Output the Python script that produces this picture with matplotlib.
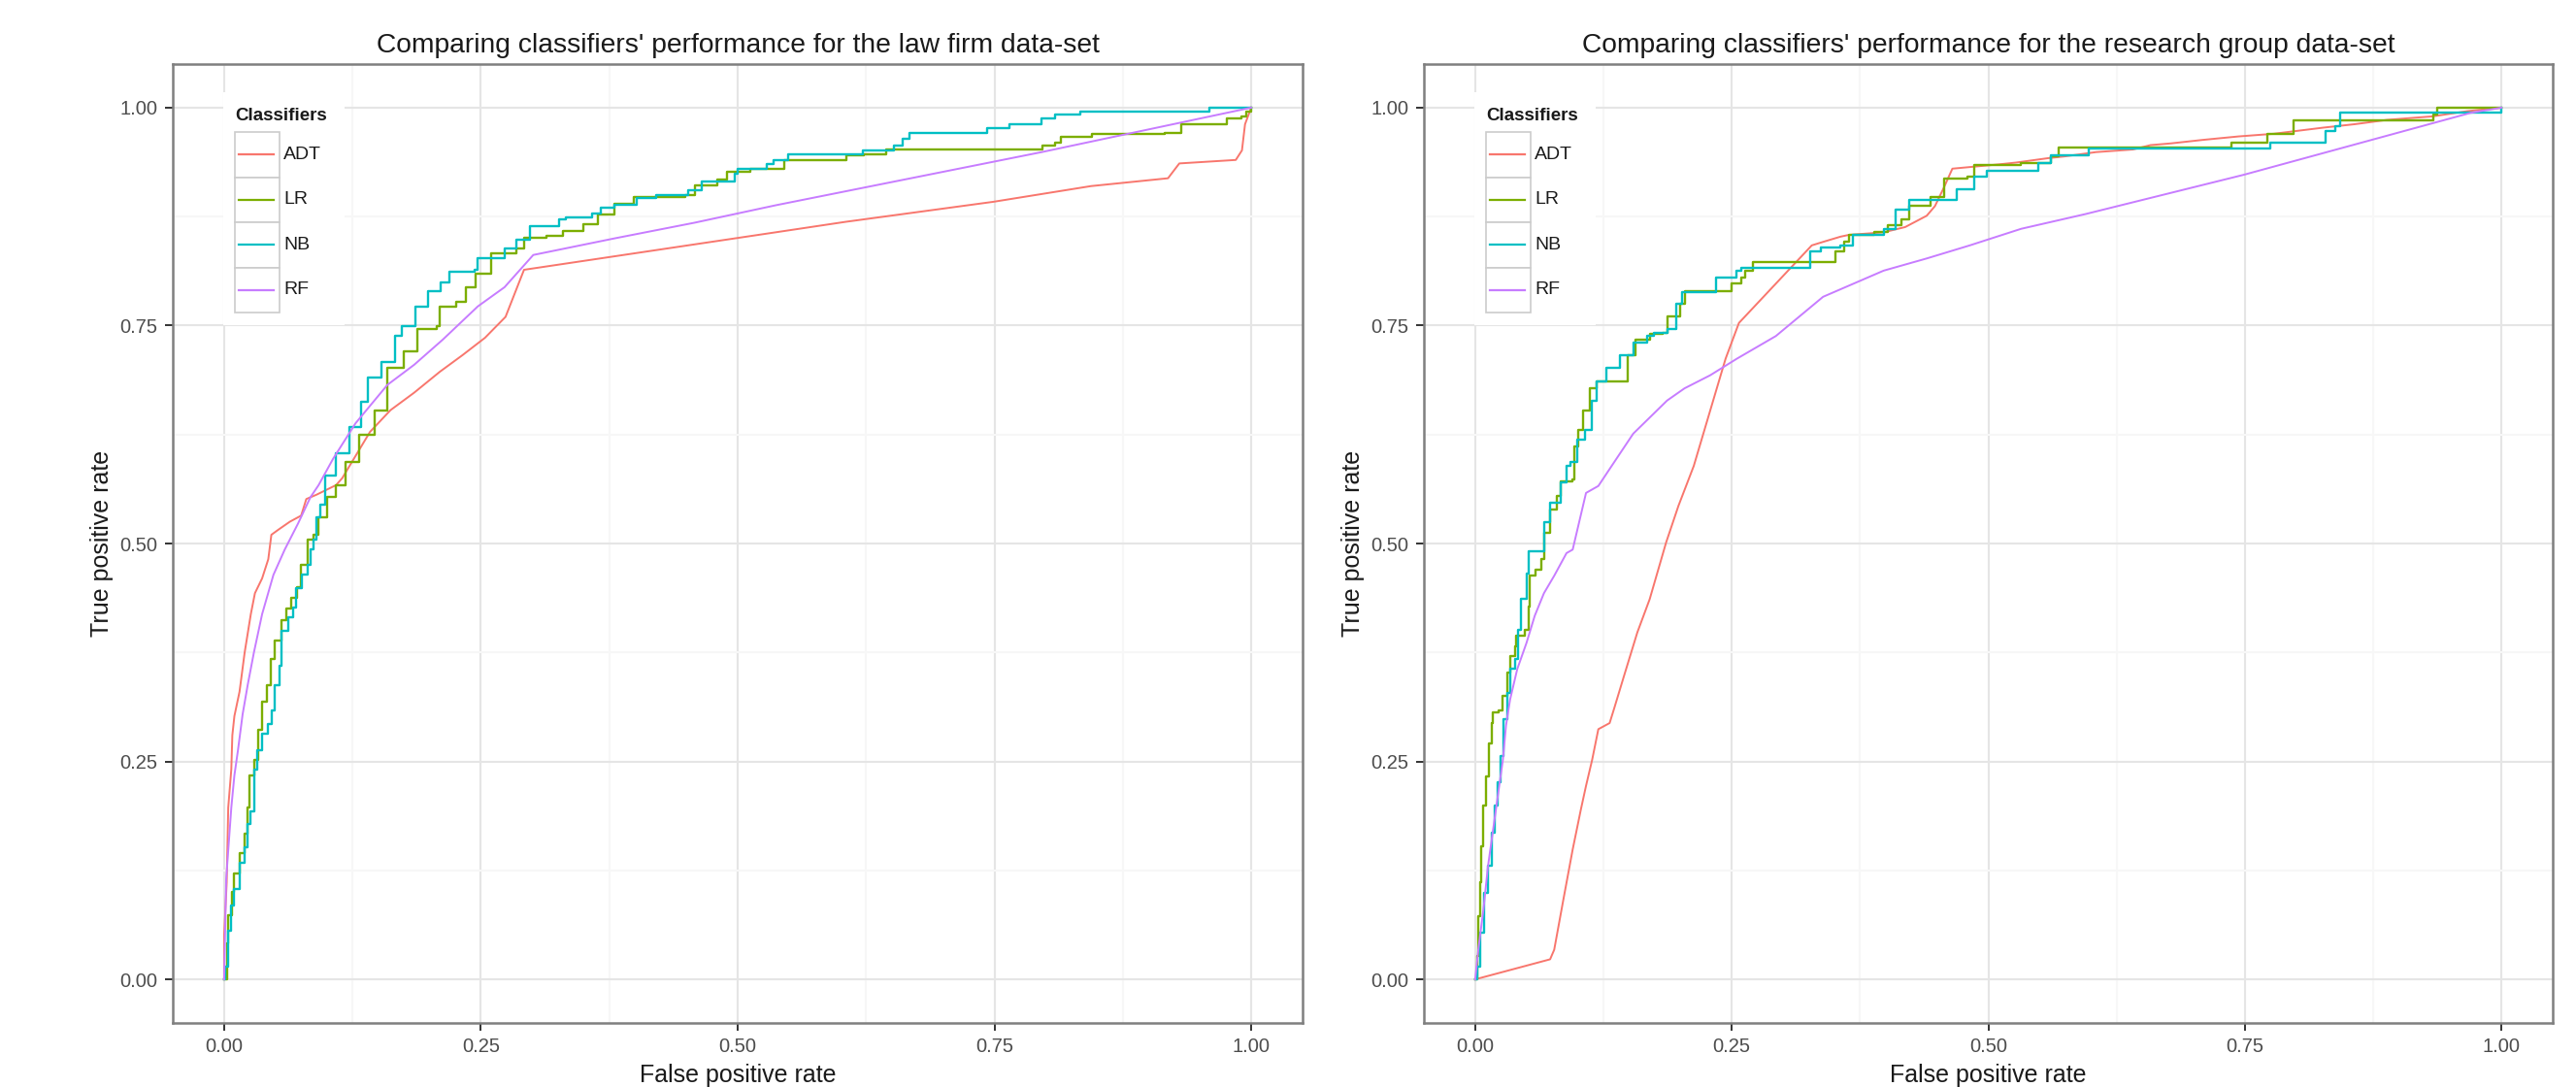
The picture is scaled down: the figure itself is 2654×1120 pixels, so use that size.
import matplotlib
matplotlib.use("Agg")
import matplotlib.pyplot as plt
from matplotlib.patches import Rectangle
from matplotlib.lines import Line2D

plt.rcParams['font.family'] = ['Liberation Sans', 'DejaVu Sans']

classifiers = ['ADT', 'LR', 'NB', 'RF']
colors = {'ADT': '#F8766D', 'LR': '#7CAE00', 'NB': '#00BFC4', 'RF': '#C77CFF'}
titles = ["Comparing classifiers' performance for the law firm data-set",
          "Comparing classifiers' performance for the research group data-set"]
ticks = [0.0, 0.25, 0.5, 0.75, 1.0]
tick_labels = ['0.00', '0.25', '0.50', '0.75', '1.00']

# ---- law firm data-set ----
law_adt_fpr = [0, 0, 0.0025, 0.004, 0.007, 0.008, 0.010, 0.015, 0.020, 0.026, 0.030, 0.037, 0.043,
               0.046, 0.053, 0.064, 0.075, 0.080, 0.090, 0.109, 0.115, 0.142, 0.162, 0.185, 0.210,
               0.232, 0.254, 0.274, 0.292, 0.537, 0.605, 0.749, 0.844, 0.919, 0.930, 0.985, 0.991,
               0.994, 1.0]
law_adt_tpr = [0, 0.05, 0.111, 0.197, 0.241, 0.28, 0.302, 0.33, 0.375, 0.419, 0.443, 0.46, 0.482,
               0.51, 0.516, 0.525, 0.532, 0.551, 0.556, 0.567, 0.575, 0.628, 0.653, 0.673, 0.697,
               0.716, 0.736, 0.760, 0.814, 0.857, 0.869, 0.892, 0.91, 0.919, 0.936, 0.94, 0.951,
               0.981, 1.0]

law_lr_fpr = [0, 0.0025, 0.004, 0.008, 0.010, 0.015, 0.020, 0.023, 0.025, 0.029, 0.033, 0.037,
              0.042, 0.045, 0.049, 0.056, 0.061, 0.065, 0.071, 0.075, 0.081, 0.087, 0.092, 0.100,
              0.109, 0.118, 0.131, 0.147, 0.159, 0.175, 0.188, 0.207, 0.210, 0.226, 0.235, 0.245,
              0.260, 0.285, 0.292, 0.314, 0.330, 0.350, 0.364, 0.380, 0.399, 0.449, 0.458, 0.480,
              0.490, 0.512, 0.545, 0.606, 0.623, 0.645, 0.797, 0.809, 0.815, 0.845, 0.916, 0.932,
              0.976, 0.990, 0.995, 1.0]
law_lr_tpr = [0, 0.041, 0.074, 0.100, 0.122, 0.145, 0.167, 0.197, 0.234, 0.252, 0.286, 0.319,
              0.338, 0.367, 0.389, 0.412, 0.425, 0.438, 0.450, 0.475, 0.505, 0.510, 0.530, 0.553,
              0.567, 0.593, 0.625, 0.653, 0.701, 0.720, 0.746, 0.749, 0.772, 0.777, 0.794, 0.809,
              0.833, 0.838, 0.851, 0.853, 0.859, 0.866, 0.877, 0.890, 0.898, 0.900, 0.911, 0.917,
              0.926, 0.930, 0.940, 0.945, 0.947, 0.952, 0.957, 0.960, 0.967, 0.970, 0.971, 0.981,
              0.988, 0.990, 0.996, 1.0]

law_nb_fpr = [0, 0.001, 0.004, 0.007, 0.010, 0.015, 0.020, 0.023, 0.026, 0.029, 0.032, 0.037,
              0.043, 0.046, 0.049, 0.054, 0.056, 0.062, 0.067, 0.070, 0.076, 0.081, 0.084, 0.087,
              0.090, 0.094, 0.098, 0.109, 0.122, 0.133, 0.140, 0.153, 0.166, 0.173, 0.186, 0.199,
              0.211, 0.219, 0.244, 0.247, 0.273, 0.285, 0.298, 0.326, 0.333, 0.358, 0.367, 0.380,
              0.402, 0.421, 0.452, 0.465, 0.497, 0.500, 0.528, 0.535, 0.549, 0.622, 0.652, 0.661,
              0.667, 0.743, 0.765, 0.796, 0.809, 0.834, 0.959, 1.0]
law_nb_tpr = [0, 0.015, 0.056, 0.085, 0.104, 0.134, 0.152, 0.178, 0.193, 0.241, 0.263, 0.282,
              0.293, 0.308, 0.338, 0.360, 0.400, 0.415, 0.427, 0.449, 0.464, 0.475, 0.493, 0.504,
              0.530, 0.545, 0.578, 0.604, 0.634, 0.662, 0.690, 0.708, 0.738, 0.749, 0.772, 0.790,
              0.799, 0.812, 0.814, 0.827, 0.838, 0.849, 0.864, 0.872, 0.874, 0.879, 0.885, 0.889,
              0.896, 0.900, 0.905, 0.915, 0.924, 0.930, 0.935, 0.940, 0.947, 0.951, 0.957, 0.964,
              0.971, 0.976, 0.981, 0.988, 0.992, 0.996, 1.0, 1.0]

law_rf_fpr = [0, 0.002, 0.004, 0.007, 0.010, 0.0135, 0.018, 0.023, 0.029, 0.037, 0.048, 0.059,
              0.072, 0.084, 0.092, 0.106, 0.128, 0.159, 0.185, 0.213, 0.247, 0.273, 0.301, 0.380,
              0.458, 0.537, 0.796, 1.0]
law_rf_tpr = [0, 0.115, 0.148, 0.197, 0.234, 0.263, 0.304, 0.338, 0.375, 0.419, 0.464, 0.493,
              0.523, 0.553, 0.567, 0.597, 0.638, 0.682, 0.705, 0.734, 0.772, 0.794, 0.831, 0.850,
              0.868, 0.888, 0.949, 1.0]

# ---- research group data-set ----
res_adt_fpr = [0, 0.073, 0.077, 0.086, 0.095, 0.103, 0.108, 0.114, 0.120, 0.131, 0.136, 0.145,
               0.158, 0.170, 0.186, 0.198, 0.213, 0.244, 0.257, 0.328, 0.339, 0.356, 0.364, 0.398,
               0.419, 0.440, 0.448, 0.457, 0.465, 0.511, 0.527, 0.558, 0.574, 0.605, 0.641, 0.658,
               0.678, 0.709, 0.744, 0.778, 0.826, 0.857, 0.889, 0.933, 0.967, 1.0]
res_adt_tpr = [0, 0.023, 0.034, 0.092, 0.149, 0.195, 0.222, 0.252, 0.287, 0.294, 0.313, 0.348,
               0.398, 0.436, 0.501, 0.543, 0.589, 0.712, 0.753, 0.842, 0.846, 0.852, 0.854, 0.857,
               0.863, 0.876, 0.887, 0.909, 0.930, 0.935, 0.937, 0.942, 0.944, 0.949, 0.952, 0.957,
               0.959, 0.963, 0.967, 0.970, 0.977, 0.981, 0.986, 0.990, 0.996, 1.0]

res_lr_fpr = [0, 0.002, 0.003, 0.005, 0.006, 0.008, 0.011, 0.013, 0.016, 0.017, 0.023, 0.027,
              0.031, 0.034, 0.039, 0.040, 0.048, 0.052, 0.053, 0.059, 0.064, 0.067, 0.073, 0.080,
              0.083, 0.095, 0.097, 0.100, 0.105, 0.112, 0.118, 0.149, 0.156, 0.170, 0.183, 0.187,
              0.200, 0.204, 0.250, 0.259, 0.263, 0.271, 0.351, 0.360, 0.364, 0.389, 0.402, 0.415,
              0.423, 0.444, 0.457, 0.480, 0.486, 0.532, 0.561, 0.569, 0.737, 0.772, 0.797, 0.934,
              0.937, 1.0]
res_lr_tpr = [0, 0.027, 0.073, 0.111, 0.153, 0.199, 0.233, 0.271, 0.294, 0.306, 0.308, 0.325,
              0.352, 0.371, 0.382, 0.394, 0.401, 0.428, 0.463, 0.470, 0.482, 0.512, 0.539, 0.554,
              0.571, 0.573, 0.611, 0.630, 0.652, 0.678, 0.686, 0.716, 0.734, 0.740, 0.742, 0.760,
              0.775, 0.790, 0.798, 0.805, 0.813, 0.823, 0.835, 0.846, 0.854, 0.857, 0.865, 0.872,
              0.887, 0.898, 0.919, 0.921, 0.934, 0.936, 0.944, 0.954, 0.960, 0.970, 0.985, 0.992,
              1.0, 1.0]

res_nb_fpr = [0, 0.002, 0.005, 0.009, 0.0125, 0.016, 0.019, 0.022, 0.025, 0.028, 0.031, 0.034,
              0.039, 0.042, 0.045, 0.050, 0.052, 0.067, 0.073, 0.083, 0.089, 0.093, 0.099, 0.107,
              0.114, 0.118, 0.128, 0.141, 0.154, 0.168, 0.174, 0.187, 0.196, 0.202, 0.235, 0.255,
              0.259, 0.326, 0.337, 0.356, 0.368, 0.398, 0.410, 0.423, 0.469, 0.486, 0.499, 0.549,
              0.561, 0.598, 0.775, 0.829, 0.838, 0.843, 1.0]
res_nb_tpr = [0, 0.015, 0.054, 0.099, 0.130, 0.168, 0.199, 0.226, 0.256, 0.298, 0.329, 0.356,
              0.367, 0.401, 0.436, 0.466, 0.491, 0.524, 0.547, 0.570, 0.589, 0.593, 0.619, 0.630,
              0.664, 0.686, 0.701, 0.716, 0.731, 0.738, 0.742, 0.746, 0.775, 0.788, 0.805, 0.813,
              0.816, 0.835, 0.840, 0.842, 0.854, 0.861, 0.883, 0.894, 0.906, 0.921, 0.928, 0.936,
              0.945, 0.953, 0.960, 0.973, 0.979, 0.994, 1.0]

res_rf_fpr = [0, 0.003, 0.008, 0.0125, 0.017, 0.022, 0.027, 0.030, 0.034, 0.041, 0.050, 0.058,
              0.067, 0.077, 0.089, 0.095, 0.108, 0.120, 0.133, 0.154, 0.187, 0.204, 0.229, 0.255,
              0.293, 0.339, 0.398, 0.440, 0.482, 0.532, 0.595, 0.749, 0.970, 1.0]
res_rf_tpr = [0, 0.034, 0.080, 0.130, 0.168, 0.210, 0.252, 0.291, 0.321, 0.356, 0.386, 0.417,
              0.443, 0.463, 0.489, 0.493, 0.558, 0.566, 0.589, 0.626, 0.664, 0.678, 0.693, 0.712,
              0.738, 0.783, 0.813, 0.827, 0.842, 0.861, 0.878, 0.923, 0.994, 1.0]

panels = [
    {'ADT': (law_adt_fpr, law_adt_tpr), 'LR': (law_lr_fpr, law_lr_tpr),
     'NB': (law_nb_fpr, law_nb_tpr), 'RF': (law_rf_fpr, law_rf_tpr)},
    {'ADT': (res_adt_fpr, res_adt_tpr), 'LR': (res_lr_fpr, res_lr_tpr),
     'NB': (res_nb_fpr, res_nb_tpr), 'RF': (res_rf_fpr, res_rf_tpr)},
]
stepped = {'ADT': False, 'LR': True, 'NB': True, 'RF': False}

W, H = 2654, 1120
fig = plt.figure(figsize=(W / 100, H / 100), dpi=100)

# axes boxes in pixels: left, right, top, bottom
boxes = [(178, 1342, 66, 1054), (1467, 2630, 66, 1054)]

for i, (l, r, t, b) in enumerate(boxes):
    ax = fig.add_axes([l / W, 1 - b / H, (r - l) / W, (b - t) / H])
    data = panels[i]
    for name in classifiers:
        fpr, tpr = data[name]
        if stepped[name]:
            ax.plot(fpr, tpr, color=colors[name], lw=1.7, drawstyle='steps-post', zorder=3)
        else:
            ax.plot(fpr, tpr, color=colors[name], lw=1.4, zorder=3)

    ax.set_xlim(-0.05, 1.05)
    ax.set_ylim(-0.05, 1.05)
    ax.set_xticks(ticks)
    ax.set_xticklabels(tick_labels)
    ax.set_yticks(ticks)
    ax.set_yticklabels(tick_labels)
    ax.set_xticks([0.125, 0.375, 0.625, 0.875], minor=True)
    ax.set_yticks([0.125, 0.375, 0.625, 0.875], minor=True)
    ax.grid(which='major', color='#E5E5E5', lw=1.5, zorder=0)
    ax.grid(which='minor', color='#F7F7F7', lw=1.5, zorder=0)
    ax.set_axisbelow(True)
    ax.tick_params(which='minor', length=0)
    ax.tick_params(which='major', length=6, width=1.4, color='#333333',
                   labelsize=14.5, labelcolor='#4D4D4D', pad=5)
    for sp in ax.spines.values():
        sp.set_color('#7F7F7F')
        sp.set_linewidth(1.8)

    aw, ah = r - l, b - t

    def fx(px, l=l, aw=aw):
        return (px - l) / aw

    def fy(py, t=t, ah=ah):
        return 1 - (py - t) / ah

    ax.text(0.5, fy(47), titles[i], transform=ax.transAxes, ha='center', va='center',
            fontsize=20.3, color='#1A1A1A')
    ax.text(0.5, fy(1108), 'False positive rate', transform=ax.transAxes, ha='center',
            va='center', fontsize=18, color='#1A1A1A')
    ax.text(fx(l - 73), 0.5, 'True positive rate', transform=ax.transAxes, ha='center',
            va='center', rotation=90, fontsize=18, color='#1A1A1A')

    # legend, drawn ggplot style
    ox = l + 52
    ax.add_patch(Rectangle((fx(ox), fy(335)), fx(ox + 125) - fx(ox), fy(95) - fy(335),
                           transform=ax.transAxes, facecolor='white', edgecolor='none',
                           zorder=4))
    ax.text(fx(ox + 12), fy(119), 'Classifiers', transform=ax.transAxes, ha='left',
            va='center', fontsize=13.5, fontweight='bold', color='#1A1A1A', zorder=5)
    row_h = 46.5
    for k, name in enumerate(classifiers):
        top = 136 + k * row_h
        ax.add_patch(Rectangle((fx(ox + 12), fy(top + row_h)), fx(ox + 58) - fx(ox + 12),
                               fy(top) - fy(top + row_h), transform=ax.transAxes,
                               facecolor='white', edgecolor='#CCCCCC', lw=1.2, zorder=5))
        cy = fy(top + row_h / 2)
        ax.add_line(Line2D([fx(ox + 16), fx(ox + 52)], [cy, cy], transform=ax.transAxes,
                           color=colors[name], lw=1.6, zorder=6))
        ax.text(fx(ox + 62), cy, name, transform=ax.transAxes, ha='left', va='center',
                fontsize=14, color='#1A1A1A', zorder=6)

fig.savefig('out.png', dpi=100)
